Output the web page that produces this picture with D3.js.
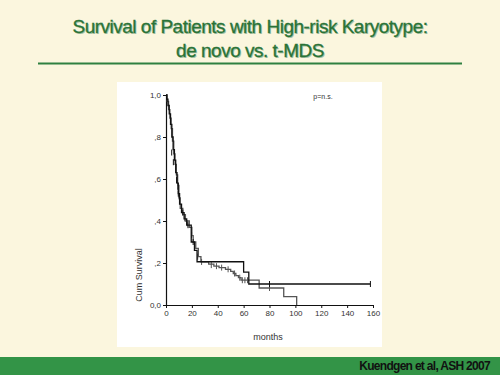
<!DOCTYPE html>
<meta charset="utf-8">
<head>
<style>
body { margin: 0; background: #fbf6de; }
svg { display: block; }
</style>
</head>
<script src="https://d3js.org/d3.v7.min.js"></script>
<div id="chart"></div>
<script>

// step points of the two Kaplan-Meier curves: [months, cum survival]
var curveA = [[0,1],[0.5,0.98],[1.5,0.95],[2.5,0.91],[3.5,0.86],[4.5,0.8],[5.5,0.74],[6.5,0.69],
  [7.5,0.63],[8.5,0.58],[9.5,0.53],[10.5,0.48],[12,0.44],[14,0.41],[16,0.38],[19.5,0.3],
  [22,0.26],[24,0.206],[60,0.157],[64,0.1],[158,0.1]];
var curveB = [[0,1],[1,0.97],[2,0.93],[3,0.89],[4,0.84],[5,0.78],[6,0.72],[7,0.67],[8,0.62],
  [9,0.57],[10,0.51],[11,0.46],[13,0.43],[15,0.4],[18,0.37],[20,0.33],[21,0.3],[23,0.27],
  [25,0.23],[27,0.205],[33,0.195],[37,0.185],[41,0.178],[46,0.17],[50,0.16],[52,0.15],
  [54,0.14],[56,0.13],[58,0.118],[72,0.081],[91,0.04],[101,0]];

// censored cases
var censorA = [[4.4,0.726],[5.7,0.68],[8.2,0.595],[9.5,0.53],[13,0.44],[17,0.38],[21,0.3],[80,0.1],[158,0.1]];
var censorB = [[9,0.563],[10.2,0.516],[14.5,0.413],[16.5,0.389],[19.8,0.333],[24.5,0.23],[27.5,0.205],
  [35,0.19],[39,0.185],[43,0.178],[48,0.17],[53,0.15],[57,0.13],[59,0.118],[61,0.118],[63,0.118],[80,0.081]];

var xTicks = [0,20,40,60,80,100,120,140,160];
var yTicks = [0,0.2,0.4,0.6,0.8,1];
var yTickLabels = ["0,0", ",2", ",4", ",6", ",8", "1,0"];

var W = 500, H = 375;
var svg = d3.select("#chart").append("svg")
  .attr("width", W).attr("height", H);

svg.append("rect").attr("width", W).attr("height", H).attr("fill", "#fbf6de");

// title
var green = "#2a7337";
var titleLines = ["Survival of Patients with High-risk Karyotype:", "de novo vs. t-MDS"];
titleLines.forEach(function(t, i) {
  svg.append("text")
    .attr("x", 251).attr("y", 34 + i * 24)
    .attr("text-anchor", "middle")
    .style("font-family", "Liberation Sans, Arial, sans-serif")
    .style("font-size", "19px")
    .style("letter-spacing", "-0.5px")
    .attr("fill", "#a9c4a6")
    .text(t);
  svg.append("text")
    .attr("x", 250).attr("y", 33 + i * 24)
    .attr("text-anchor", "middle")
    .style("font-family", "Liberation Sans, Arial, sans-serif")
    .style("font-size", "19px")
    .style("letter-spacing", "-0.5px")
    .attr("fill", green)
    .attr("stroke", green)
    .attr("stroke-width", 0.3)
    .text(t);
});
svg.append("line")
  .attr("x1", 38).attr("x2", 462).attr("y1", 63.5).attr("y2", 63.5)
  .attr("stroke", "#2f8040").attr("stroke-width", 2);

// white panel
svg.append("rect")
  .attr("x", 117).attr("y", 82).attr("width", 265).attr("height", 265)
  .attr("fill", "white");

// footer band
svg.append("rect").attr("x", 0).attr("y", 357).attr("width", W).attr("height", 18).attr("fill", "#339447");
svg.append("text")
  .attr("x", 490).attr("y", 370)
  .attr("text-anchor", "end")
  .style("font-family", "Liberation Sans, Arial, sans-serif")
  .style("font-size", "12px")
  .style("font-weight", "bold")
  .style("letter-spacing", "-0.7px")
  .attr("fill", "#111")
  .text("Kuendgen et al, ASH 2007");

// scales
var x = d3.scaleLinear().domain([0, 160]).range([166, 373]);
var y = d3.scaleLinear().domain([0, 1]).range([305, 95]);

var xAxis = svg.append("g")
  .attr("transform", "translate(0," + y(0) + ")")
  .call(d3.axisBottom(x).tickValues(xTicks).tickSize(3).tickPadding(2).tickSizeOuter(0));
var yAxis = svg.append("g")
  .attr("transform", "translate(" + x(0) + ",0)")
  .call(d3.axisLeft(y).tickValues(yTicks).tickSize(3).tickPadding(2).tickSizeOuter(0)
    .tickFormat(function(d, i) { return yTickLabels[i]; }));
[xAxis, yAxis].forEach(function(a) {
  a.select(".domain").attr("stroke", "#111").attr("stroke-width", 1.2);
  a.selectAll(".tick line").attr("stroke", "#111");
  a.selectAll("text")
    .style("font-family", "Liberation Sans, Arial, sans-serif")
    .style("font-size", "8px")
    .attr("fill", "#333");
});

svg.append("text")
  .attr("transform", "translate(142,275) rotate(-90)")
  .attr("text-anchor", "middle")
  .style("font-family", "Liberation Sans, Arial, sans-serif")
  .style("font-size", "9px")
  .attr("fill", "#333")
  .text("Cum Survival");

svg.append("text")
  .attr("x", 268).attr("y", 340)
  .attr("text-anchor", "middle")
  .style("font-family", "Liberation Sans, Arial, sans-serif")
  .style("font-size", "9px")
  .attr("fill", "#333")
  .text("months");

svg.append("text")
  .attr("x", 323).attr("y", 99)
  .attr("text-anchor", "middle")
  .style("font-family", "Liberation Sans, Arial, sans-serif")
  .style("font-size", "7px")
  .attr("fill", "#333")
  .text("p=n.s.");

// curves
var line = d3.line()
  .x(function(d) { return x(d[0]); })
  .y(function(d) { return y(d[1]); })
  .curve(d3.curveStepAfter);

var series = [
  {pts: curveB, cens: censorB, color: "#555"},
  {pts: curveA, cens: censorA, color: "#111"}
];
series.forEach(function(s) {
  svg.append("path")
    .datum(s.pts)
    .attr("d", line)
    .attr("fill", "none")
    .attr("stroke", s.color)
    .attr("stroke-width", 1.3);
  svg.append("g").selectAll("line")
    .data(s.cens)
    .enter()
    .append("line")
      .attr("x1", function(d) { return x(d[0]); })
      .attr("x2", function(d) { return x(d[0]); })
      .attr("y1", function(d) { return y(d[1]) - 3; })
      .attr("y2", function(d) { return y(d[1]) + 3; })
      .attr("stroke", s.color)
      .attr("stroke-width", 1);
});
</script>
